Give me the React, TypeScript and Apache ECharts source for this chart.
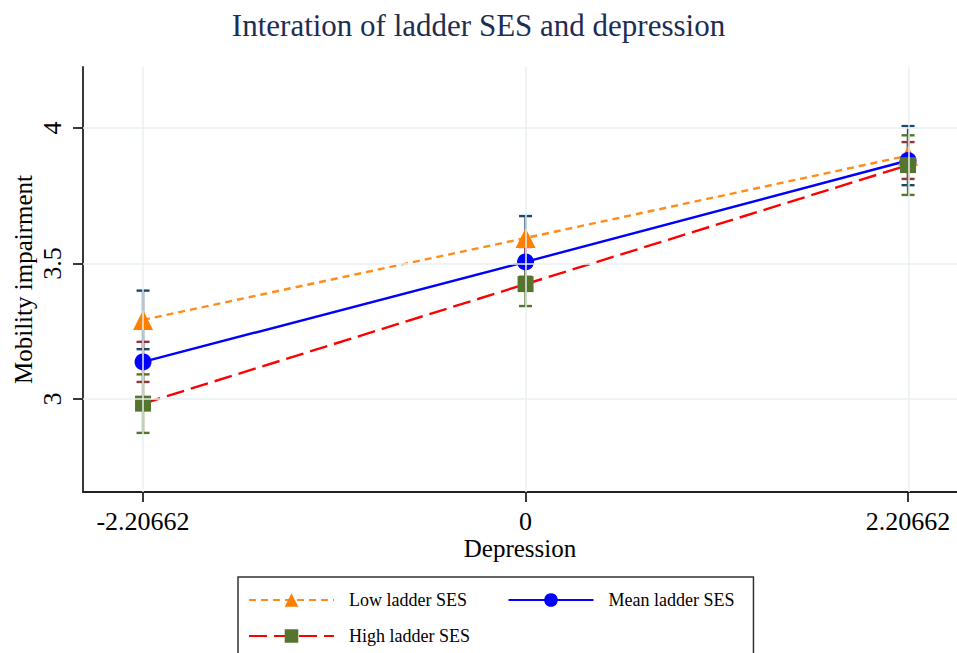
import React, { useEffect, useRef } from "react";
import * as echarts from "echarts";

const xValues = [-2.20662, 0, 2.20662];
const xTickLabels = ["-2.20662", "0", "2.20662"];
const yTicks = [3, 3.5, 4];
const seriesNames = ["Low ladder SES", "Mean ladder SES", "High ladder SES"];
const lowMean = [3.292, 3.594, 3.898];
const lowHalf = [0.108, 0.081, 0.109];
const meanMean = [3.137, 3.506, 3.88];
const meanHalf = [0.074, 0.055, 0.068];
const highMean = [2.983, 3.424, 3.863];
const highHalf = [0.108, 0.081, 0.11];

const FONT = "Liberation Serif";

function makeErr(name: string, means: number[], halves: number[], color: string) {
  return {
    type: "custom",
    name,
    z: 2,
    silent: true,
    data: xValues.map((x, i) => [x, means[i] - halves[i], means[i] + halves[i]]),
    encode: { x: 0, y: [1, 2] },
    renderItem: (params: any, api: any) => {
      const lo = api.coord([api.value(0), api.value(1)]);
      const hi = api.coord([api.value(0), api.value(2)]);
      const w = 6.5;
      const style = { stroke: color, lineWidth: 2.4, fill: "none" };
      return {
        type: "group",
        children: [
          { type: "line", shape: { x1: lo[0], y1: lo[1], x2: hi[0], y2: hi[1] }, style },
          { type: "line", shape: { x1: lo[0] - w, y1: lo[1], x2: lo[0] + w, y2: lo[1] }, style },
          { type: "line", shape: { x1: hi[0] - w, y1: hi[1], x2: hi[0] + w, y2: hi[1] }, style },
        ],
      };
    },
  };
}

export default function App() {
  const ref = useRef<HTMLDivElement>(null);
  useEffect(() => {
    if (!ref.current) return;
    const chart = echarts.init(ref.current, null, { renderer: "svg" });
    const option: any = {
      animation: false,
      backgroundColor: "#ffffff",
      title: {
        text: "Interation of ladder SES and depression",
        left: "center",
        top: 5,
        textStyle: { fontFamily: FONT, fontSize: 31, fontWeight: "normal", color: "#1e2d53" },
      },
      grid: { left: 83, top: 67, right: 0, bottom: 161, outerBoundsMode: "none" },
      xAxis: {
        type: "value",
        min: -2.553,
        max: 2.489,
        name: "Depression",
        nameLocation: "middle",
        nameGap: 44,
        nameMoveOverlap: false,
        nameTextStyle: { fontFamily: FONT, fontSize: 25, color: "#000" },
        axisLine: { show: true, onZero: false, lineStyle: { color: "#222", width: 1.8 } },
        axisTick: { show: true, length: 10, customValues: xValues, lineStyle: { color: "#222", width: 1.8 } },
        axisLabel: {
          customValues: xValues,
          margin: 16,
          fontFamily: FONT,
          fontSize: 26,
          color: "#000",
          formatter: (v: number) => {
            const i = xValues.findIndex((x) => Math.abs(x - v) < 1e-6);
            return i >= 0 ? xTickLabels[i] : "";
          },
        },
        splitLine: { show: false },
      },
      yAxis: {
        type: "value",
        min: 2.657,
        max: 4.225,
        name: "Mobility impairment",
        nameLocation: "middle",
        nameGap: 47,
        nameMoveOverlap: false,
        nameTextStyle: { fontFamily: FONT, fontSize: 25, color: "#000" },
        axisLine: { show: true, onZero: false, lineStyle: { color: "#222", width: 1.8 } },
        axisTick: { show: true, length: 10, customValues: yTicks, lineStyle: { color: "#222", width: 1.8 } },
        axisLabel: {
          customValues: yTicks,
          rotate: 90,
          margin: 18,
          fontFamily: FONT,
          fontSize: 26,
          color: "#000",
          formatter: (v: number) => String(v),
        },
        splitLine: { show: false },
      },
      legend: {
        data: seriesNames,
        left: 238,
        top: 577,
        width: 500,
        orient: "horizontal",
        padding: [14, 19, 12, 10],
        itemGap: 18,
        itemWidth: 85,
        itemHeight: 17,
        borderColor: "#333",
        borderWidth: 1.5,
        borderRadius: 0,
        formatter: (name: string) =>
          name === seriesNames[0] ? `{b|${name}\u00a0\u00a0\u00a0\u00a0\u00a0}` : `{b|${name}}`,
        textStyle: {
          fontFamily: FONT,
          fontSize: 18,
          color: "#000",
          rich: {
            b: { fontFamily: FONT, fontSize: 18, color: "#000", padding: [0, 0, 0, 10] },
          },
        },
      },
      series: [
        {
          type: "line",
          name: "grid",
          data: [],
          silent: true,
          z: 1,
          markLine: {
            silent: true,
            symbol: ["none", "none"],
            label: { show: false },
            lineStyle: { color: "#e8f0f2", type: "solid", width: 1.5 },
            emphasis: { disabled: true },
            data: [
              ...yTicks.map((v) => ({ yAxis: v })),
              ...xValues.map((v) => ({ xAxis: v })),
            ],
          },
        },
        makeErr("Low CI", lowMean, lowHalf, "#1a476f"),
        makeErr("Mean CI", meanMean, meanHalf, "#90353b"),
        makeErr("High CI", highMean, highHalf, "#55752f"),
        {
          type: "line",
          name: seriesNames[0],
          z: 3,
          data: xValues.map((x, i) => [x, lowMean[i]]),
          symbol: "triangle",
          symbolSize: 20,
          itemStyle: { color: "#ff8000" },
          lineStyle: { color: "#ff8c1a", width: 2.4, type: [7, 5] },
        },
        {
          type: "line",
          name: seriesNames[1],
          z: 3,
          data: xValues.map((x, i) => [x, meanMean[i]]),
          symbol: "circle",
          symbolSize: 17,
          itemStyle: { color: "#0000ff" },
          lineStyle: { color: "#0000ff", width: 2.4, type: "solid" },
        },
        {
          type: "line",
          name: seriesNames[2],
          z: 3,
          data: xValues.map((x, i) => [x, highMean[i]]),
          symbol: "rect",
          symbolSize: 16,
          itemStyle: { color: "#55752f" },
          lineStyle: { color: "#ff0000", width: 2.4, type: [18, 7] },
        },
      ],
    };
    chart.setOption(option);
    return () => chart.dispose();
  }, []);
  return (
    <div
      ref={ref}
      style={{ position: "absolute", left: 0, top: 0, width: 957, height: 653, background: "#fff" }}
    />
  );
}
